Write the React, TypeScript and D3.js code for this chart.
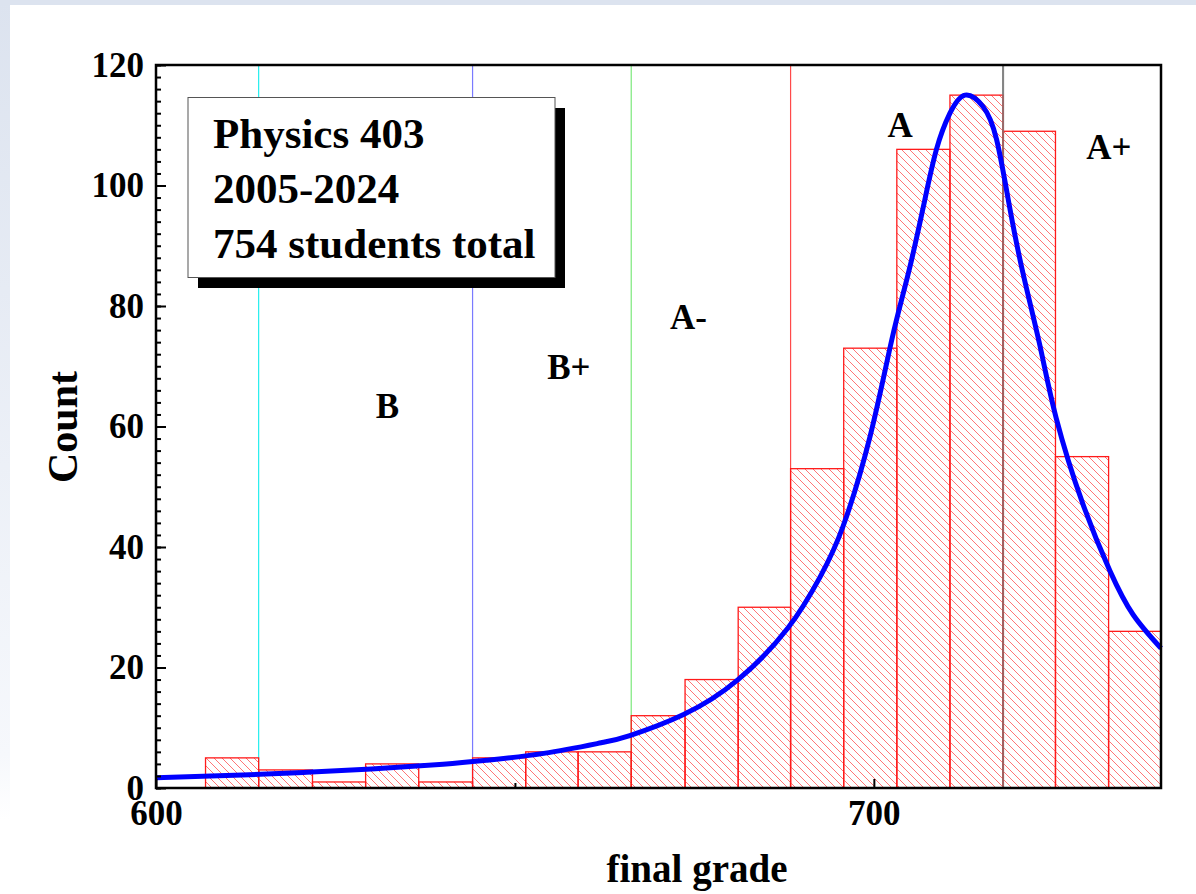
import React, { useEffect, useRef } from "react";
import * as d3 from "d3";

// histogram bins (final grade)
const binEdges = [
  606.9, 614.3, 621.8, 629.2, 636.6, 644.1, 651.5, 658.8, 666.2, 673.7, 681.1,
  688.4, 695.8, 703.2, 710.6, 718.0, 725.3, 732.7, 740,
];
const binCounts = [5, 3, 1, 4, 1, 5, 6, 6, 12, 18, 30, 53, 73, 106, 115, 109, 55, 26];

// fitted curve
const fitX = [
  600, 612, 621, 630, 640, 646, 654, 662, 666, 673.5, 681, 688, 692.5, 695.7,
  699.5, 702.5, 704.8, 706.9, 708.7, 710.6, 712.7, 715.2, 717.1, 718.9, 720.8,
  723.1, 725.4, 729.1, 732.9, 736.1, 740,
];
const fitY = [
  1.7, 2.15, 2.6, 3.15, 3.95, 4.6, 5.75, 7.5, 8.7, 12.2, 17.9, 26.5, 35, 43.4,
  58.5, 74.4, 85.4, 96.5, 105.9, 112, 115, 113.1, 107.6, 96.5, 85.3, 73.6, 61.4,
  47.2, 36, 28.8, 23.2,
];

// grade cut lines
const cutValues = [614.3, 644.1, 666.2, 688.4, 718.0];
const cutColors = ["#22eeee", "#7a7aff", "#7be87b", "#ff4a4a", "#9a9a9a"];

// grade labels
const gradeNames = ["B", "B+", "A-", "A", "A+"];
const gradeX = [630.6, 654.5, 671.6, 701.9, 729.6];
const gradeY = [61.4, 67.9, 76.2, 108, 104.4];

const yMajor = [0, 20, 40, 60, 80, 100, 120];
const xMajor = [600, 700];
const xMinor = [650];

const legendLines = ["Physics 403", "2005-2024", "754 students total"];

const App = () => {
  const svgRef = useRef<SVGSVGElement>(null);

  useEffect(() => {
    const width = 1196;
    const height = 894;
    const left = 156;
    const right = 1161;
    const top = 65;
    const bottom = 788;
    const font = "'Liberation Serif', 'Times New Roman', serif";

    const svg = d3.select(svgRef.current);
    svg.selectAll("*").remove();
    svg.attr("width", width).attr("height", height);

    const x = d3.scaleLinear().domain([600, 740]).range([left, right]);
    const y = d3.scaleLinear().domain([0, 120]).range([bottom, top]);

    const defs = svg.append("defs");
    const grad = defs
      .append("linearGradient")
      .attr("id", "edge")
      .attr("x1", 0)
      .attr("y1", 0)
      .attr("x2", 0)
      .attr("y2", 1);
    grad.append("stop").attr("offset", "0%").attr("stop-color", "#dce3ef");
    grad.append("stop").attr("offset", "92%").attr("stop-color", "#f6f8fc");
    grad.append("stop").attr("offset", "100%").attr("stop-color", "#ffffff");

    const s = 8;
    const hatch = defs
      .append("pattern")
      .attr("id", "hatch")
      .attr("patternUnits", "userSpaceOnUse")
      .attr("width", s)
      .attr("height", s);
    hatch
      .append("path")
      .attr(
        "d",
        `M-1,-1L${s + 1},${s + 1}M${s - 1},-1L${s + 1},1M-1,${s - 1}L1,${s + 1}`
      )
      .attr("stroke", "#ff6666")
      .attr("stroke-width", 0.9);

    // page background
    svg.append("rect").attr("width", width).attr("height", height).attr("fill", "#fff");
    svg.append("rect").attr("width", 10).attr("height", 820).attr("fill", "url(#edge)");
    svg.append("rect").attr("width", width).attr("height", 5).attr("fill", "#dce3ef");

    // grade cut lines
    svg
      .append("g")
      .selectAll("line")
      .data(cutValues)
      .join("line")
      .attr("x1", (d) => x(d))
      .attr("x2", (d) => x(d))
      .attr("y1", top)
      .attr("y2", bottom)
      .attr("stroke", (d, i) => cutColors[i])
      .attr("stroke-width", (d, i) => (i === 4 ? 2 : 1.2));

    // histogram
    svg
      .append("g")
      .selectAll("rect")
      .data(binCounts)
      .join("rect")
      .attr("x", (d, i) => x(binEdges[i]))
      .attr("width", (d, i) => x(binEdges[i + 1]) - x(binEdges[i]))
      .attr("y", (d) => y(d))
      .attr("height", (d) => y(0) - y(d))
      .attr("fill", "url(#hatch)")
      .attr("stroke", "#ff1a1a")
      .attr("stroke-width", 1.3);

    // last cut line shows through the bars
    svg
      .append("line")
      .attr("x1", x(cutValues[4]))
      .attr("x2", x(cutValues[4]))
      .attr("y1", top)
      .attr("y2", bottom)
      .attr("stroke", "#7a7a7a")
      .attr("stroke-opacity", 0.7)
      .attr("stroke-width", 2);

    // fit curve
    const line = d3
      .line<number>()
      .x((d) => x(d))
      .y((d, i) => y(fitY[i]))
      .curve(d3.curveNatural);
    svg
      .append("path")
      .datum(fitX)
      .attr("fill", "none")
      .attr("stroke", "#0000ff")
      .attr("stroke-width", 5)
      .attr("d", line);

    // legend box
    svg
      .append("rect")
      .attr("x", 198)
      .attr("y", 108)
      .attr("width", 367)
      .attr("height", 180)
      .attr("fill", "#000");
    svg
      .append("rect")
      .attr("x", 188)
      .attr("y", 97.5)
      .attr("width", 367)
      .attr("height", 180)
      .attr("fill", "#fff")
      .attr("stroke", "#555")
      .attr("stroke-width", 1);
    svg
      .append("g")
      .selectAll("text")
      .data(legendLines)
      .join("text")
      .attr("x", 213)
      .attr("y", (d, i) => 148 + i * 55)
      .attr("font-family", font)
      .attr("font-weight", "bold")
      .attr("font-size", 43)
      .text((d) => d);

    // grade labels
    svg
      .append("g")
      .selectAll("text")
      .data(gradeNames)
      .join("text")
      .attr("x", (d, i) => x(gradeX[i]))
      .attr("y", (d, i) => y(gradeY[i]))
      .attr("font-family", font)
      .attr("font-weight", "bold")
      .attr("font-size", 35)
      .text((d) => d);

    // y axis
    svg
      .append("g")
      .attr("transform", `translate(${left},0)`)
      .call(
        d3
          .axisLeft(y)
          .tickValues(d3.range(0, 121, 2))
          .tickSizeInner(-5)
          .tickSizeOuter(0)
          .tickFormat(() => "")
      )
      .call((g) => g.select(".domain").remove())
      .call((g) => g.selectAll("line").attr("stroke", "#000").attr("stroke-width", 2));
    svg
      .append("g")
      .attr("transform", `translate(${left},0)`)
      .call(
        d3
          .axisLeft(y)
          .tickValues(yMajor)
          .tickSizeInner(-10)
          .tickSizeOuter(0)
          .tickPadding(12)
      )
      .call((g) => g.select(".domain").remove())
      .call((g) => g.selectAll("line").attr("stroke", "#000").attr("stroke-width", 2))
      .call((g) =>
        g
          .selectAll("text")
          .attr("font-family", font)
          .attr("font-weight", "bold")
          .attr("font-size", 35)
          .attr("fill", "#000")
      );

    // x axis
    svg
      .append("g")
      .attr("transform", `translate(0,${bottom})`)
      .call(
        d3.axisBottom(x).tickValues(xMinor).tickSizeInner(-5).tickSizeOuter(0).tickFormat(() => "")
      )
      .call((g) => g.select(".domain").remove())
      .call((g) => g.selectAll("line").attr("stroke", "#000").attr("stroke-width", 2));
    svg
      .append("g")
      .attr("transform", `translate(0,${bottom})`)
      .call(
        d3
          .axisBottom(x)
          .tickValues(xMajor)
          .tickSizeInner(-9)
          .tickSizeOuter(0)
          .tickPadding(12)
          .tickFormat(d3.format("d"))
      )
      .call((g) => g.select(".domain").remove())
      .call((g) => g.selectAll("line").attr("stroke", "#000").attr("stroke-width", 2))
      .call((g) =>
        g
          .selectAll("text")
          .attr("font-family", font)
          .attr("font-weight", "bold")
          .attr("font-size", 35)
          .attr("fill", "#000")
      );

    // frame
    svg
      .append("rect")
      .attr("x", left)
      .attr("y", top)
      .attr("width", right - left)
      .attr("height", bottom - top)
      .attr("fill", "none")
      .attr("stroke", "#000")
      .attr("stroke-width", 2.5);

    // axis titles
    svg
      .append("text")
      .attr("x", 697)
      .attr("y", 882)
      .attr("text-anchor", "middle")
      .attr("font-family", font)
      .attr("font-weight", "bold")
      .attr("font-size", 39)
      .text("final grade");
    svg
      .append("text")
      .attr("transform", "translate(77,427) rotate(-90)")
      .attr("text-anchor", "middle")
      .attr("font-family", font)
      .attr("font-weight", "bold")
      .attr("font-size", 42)
      .text("Count");
  }, []);

  return (
    <div style={{ position: "absolute", left: 0, top: 0 }}>
      <svg ref={svgRef} style={{ display: "block" }}></svg>
    </div>
  );
};

export default App;
